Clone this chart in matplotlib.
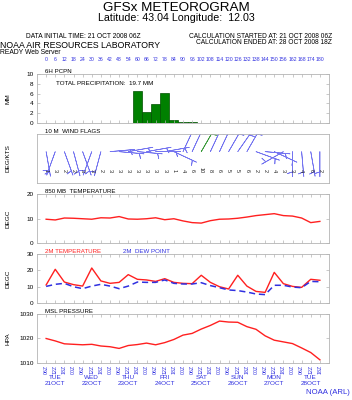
import numpy as np
import matplotlib.pyplot as plt
from matplotlib import transforms

plt.rcParams['font.family'] = ['Liberation Sans', 'DejaVu Sans']

# forecast hours (every 6 h from 21 OCT 2008 06Z)
hours = np.arange(0, 181, 6)

pcpn = [0, 0, 0, 0, 0, 0, 0, 0, 0, 0, 6.6, 2.3, 3.9, 6.2, 0.5, 0.1,
        0.05, 0.02, 0, 0, 0, 0, 0, 0, 0, 0, 0, 0, 0, 0, 0]

wind_dir = [170, 200, 160, 165, 160, 200, 195, 85, 95, 80, 95, 80, 90, 80, 115, 25,
            25, 30, 25, 25, 30, 35, 30, 110, 95, 115, 240, 180, 175, 170, 180]
wind_spd = [1, 3, 2, 2, 3, 3, 2, 3, 3, 3, 3, 3, 3, 3, 1, 4,
            6, 10, 8, 6, 5, 5, 6, 2, 2, 4, 3, 3, 4, 6, 2]

t850 = [9.7, 9.4, 10.2, 10.1, 9.9, 9.7, 10.3, 10.2, 10.8, 9.8, 9.7, 9.9, 10.3, 9.5, 9.9, 9.0,
        8.3, 8.1, 9.1, 9.7, 9.8, 10.1, 10.6, 11.2, 11.6, 12.0, 11.2, 11.0, 10.2, 8.3, 8.8]

t2m = [11.0, 20.7, 12.8, 11.2, 10.3, 21.5, 13.5, 12.0, 12.6, 17.4, 14.5, 14.1, 13.2, 14.9, 12.6, 12.0,
       11.8, 17.0, 12.6, 9.9, 8.5, 17.0, 10.3, 7.0, 6.4, 18.8, 11.8, 10.1, 9.5, 14.5, 13.9]
td2m = [10.1, 11.4, 12.0, 9.9, 8.7, 10.3, 11.4, 10.3, 8.7, 10.3, 12.8, 12.6, 12.6, 14.1, 12.0, 11.6,
        11.6, 12.4, 10.6, 9.3, 7.9, 7.5, 6.6, 5.4, 5.0, 10.8, 10.8, 9.7, 9.3, 13.2, 13.0]

mslp = [1020.0, 1019.0, 1017.8, 1017.6, 1017.4, 1017.6, 1016.9, 1016.6, 1015.9, 1017.1, 1017.5,
        1018.1, 1017.4, 1018.3, 1019.6, 1021.4, 1022.1, 1023.9, 1025.4, 1027.2, 1026.8, 1026.7,
        1024.9, 1023.8, 1021.1, 1019.3, 1018.6, 1017.9, 1016.1, 1014.2, 1011.2]

hour_labels = ['06Z', '12Z', '18Z', '00Z'] * 7 + ['06Z', '12Z', '18Z']
days = ['TUE', 'WED', 'THU', 'FRI', 'SAT', 'SUN', 'MON', 'TUE']
dates = ['21OCT', '22OCT', '23OCT', '24OCT', '25OCT', '26OCT', '27OCT', '28OCT']

BLUE = '#3030e0'
RED = '#ff2020'
GRAY = '#b4b4b4'

fig = plt.figure(figsize=(3.52, 4.0), dpi=100)


def panel(top, bottom):
    ax = fig.add_axes([37 / 352, 1 - bottom / 400, 292 / 352, (bottom - top) / 400])
    ax.set_xlim(-6, 186)
    for s in ax.spines.values():
        s.set_color(GRAY)
        s.set_linewidth(0.6)
    ax.set_xticks(hours)
    ax.tick_params(axis='both', direction='in', length=2.2, width=0.5, color=GRAY,
                   labelsize=4.6, pad=2.5, top=True, right=True)
    ax.tick_params(axis='x', labelbottom=False)
    return ax


def title(ax, txt, x=0.027, color='black'):
    ax.text(x, 1.0, txt, transform=ax.transAxes, fontsize=4.4, color=color,
            ha='left', va='bottom')


def ylab(ax, txt):
    ax.set_ylabel(txt, fontsize=4.6)
    ax.yaxis.set_label_coords(-0.092, 0.5)


# header
fig.text(0.5, 1 - 8 / 400, 'GFSx METEOROGRAM', ha='center', va='center', fontsize=9.7)
fig.text(0.5, 1 - 18 / 400, 'Latitude: 43.04 Longitude:  12.03', ha='center', va='center', fontsize=7.7)
fig.text(26 / 352, 1 - 36 / 400, 'DATA INITIAL TIME: 21 OCT 2008 06Z', va='center', fontsize=4.8)
fig.text(332 / 352, 1 - 36 / 400, 'CALCULATION STARTED AT: 21 OCT 2008 06Z', ha='right', va='center', fontsize=4.8)
fig.text(332 / 352, 1 - 43 / 400, 'CALCULATION ENDED AT: 28 OCT 2008 18Z', ha='right', va='center', fontsize=4.8)
fig.text(0, 1 - 45 / 400, 'NOAA AIR RESOURCES LABORATORY', va='center', fontsize=6.3)
fig.text(0, 1 - 52.5 / 400, 'READY Web Server', va='center', fontsize=4.9)

# 6h precipitation
ax1 = panel(74.3, 122.7)
ax1.bar(hours, pcpn, width=6, color='#008000', edgecolor='#005000', linewidth=0.5)
ax1.set_ylim(0, 10)
ax1.set_yticks([0, 2, 4, 6, 8, 10])
ax1.tick_params(axis='x', labeltop=True, labelsize=3.7, labelcolor=BLUE, pad=8.5)
title(ax1, '6H PCPN')
ax1.text(0.066, 0.8, 'TOTAL PRECIPITATION:  %.1f MM' % sum(pcpn), transform=ax1.transAxes,
         fontsize=4.5, va='center')
ylab(ax1, 'MM')

# 10 m wind flags
ax2 = panel(134, 183)
ax2.set_ylim(0, 1)
ax2.set_yticks([])
ax2.tick_params(axis='x', length=0)
rad = np.deg2rad(wind_dir)
spd = np.array(wind_spd, dtype=float)
u = -spd * np.sin(rad)
v = -spd * np.cos(rad)
cols = ['#3a9a3a' if s >= 10 else '#7474f0' for s in wind_spd]
ax2.barbs(hours, np.full(len(hours), 0.64), u, v, length=6.0, linewidth=0.5, color=cols,
          barb_increments=dict(half=1, full=100, flag=1000), sizes=dict(emptybarb=0, height=0.4))
for h, s in zip(hours, wind_spd):
    ax2.text(h, 0.26, str(s), fontsize=4.0, rotation=-90, ha='center', va='center', color='#222222')
title(ax2, '10 M  WIND FLAGS')
ylab(ax2, 'DEG/KTS')

# 850 mb temperature
ax3 = panel(194.3, 242.7)
ax3.plot(hours, t850, color=RED, lw=1.0)
ax3.set_ylim(0, 20)
ax3.set_yticks([0, 10, 20])
title(ax3, '850 MB  TEMPERATURE')
ylab(ax3, 'DEGC')

# 2 m temperature / dew point
ax4 = panel(254.3, 302.7)
ax4.plot(hours, t2m, color=RED, lw=1.0)
ax4.plot(hours, td2m, color=BLUE, lw=1.1, ls=(0, (4, 2.5)))
ax4.set_ylim(0, 30)
ax4.set_yticks([0, 10, 20, 30])
title(ax4, '2M TEMPERATURE', color=RED)
title(ax4, '2M  DEW POINT', x=0.295, color=BLUE)
ylab(ax4, 'DEGC')

# MSL pressure
ax5 = panel(314.3, 362.7)
ax5.plot(hours, mslp, color=RED, lw=1.0)
ax5.set_ylim(1010, 1030)
ax5.set_yticks([1010, 1020, 1030])
ax5.tick_params(axis='x', labelbottom=True, labelsize=3.8, labelcolor=BLUE, pad=1.5)
ax5.set_xticklabels(hour_labels, rotation=90)
title(ax5, 'MSL PRESSURE')
ylab(ax5, 'HPA')
trans = transforms.blended_transform_factory(ax5.transData, ax5.transAxes)
for k, (d, dt) in enumerate(zip(days, dates)):
    ax5.text(6 + 24 * k, -0.31, d, transform=trans, ha='center', va='center', fontsize=4.6, color=BLUE)
    ax5.text(6 + 24 * k, -0.43, dt, transform=trans, ha='center', va='center', fontsize=4.6, color=BLUE)

fig.text(350 / 352, 1 - 393 / 400, 'NOAA (ARL)', ha='right', va='center', fontsize=5.6, color=BLUE)

fig.savefig('out.png', dpi=100)
